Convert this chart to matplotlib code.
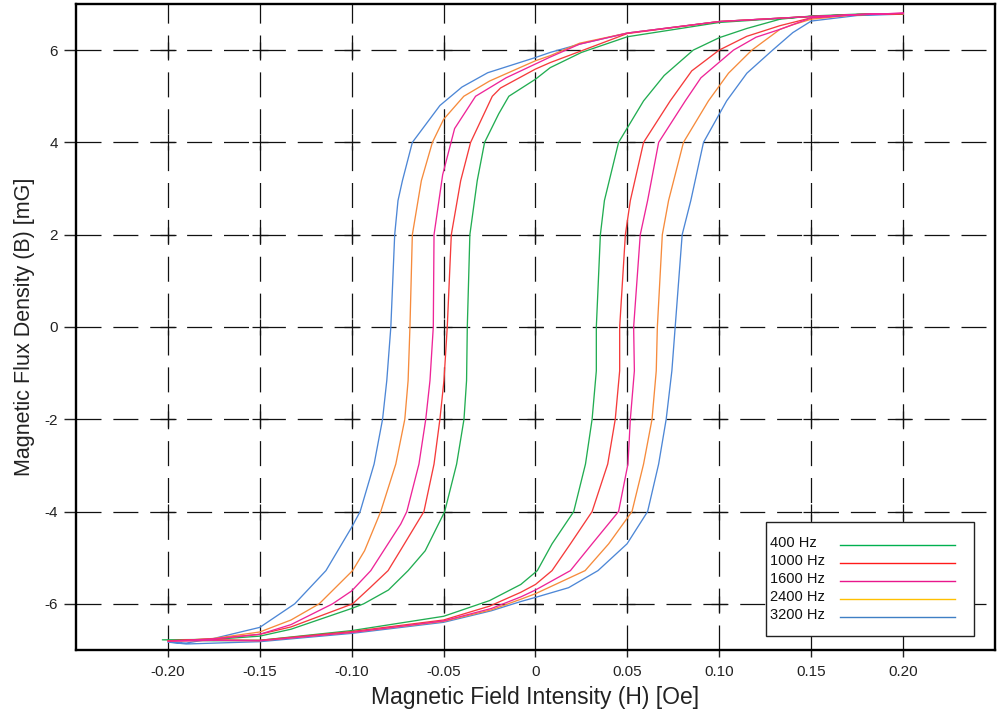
import matplotlib
matplotlib.use("Agg")
import matplotlib.pyplot as plt
from matplotlib.patches import Rectangle
import numpy as np

plt.rcParams['font.family'] = ['Liberation Sans', 'DejaVu Sans']
plt.rcParams['axes.unicode_minus'] = False

# hysteresis loops: upper branch (H falling) then lower branch (H rising)
h_400 = [0.200, 0.175, 0.150, 0.100, 0.050, 0.025, 0.008, 0.000, -0.0145, -0.020, -0.0277, -0.0317,
         -0.0357, -0.0371, -0.0375, -0.0389, -0.0429, -0.0494, -0.0600, -0.0693, -0.0800, -0.0935,
         -0.100, -0.133, -0.150, -0.175, -0.203,
         -0.175, -0.150, -0.100, -0.050, -0.025, -0.008, 0.001, 0.009, 0.0208, 0.0272, 0.0308,
         0.0331, 0.0331, 0.0353, 0.0375, 0.0452, 0.0588, 0.0700, 0.0858, 0.100, 0.115, 0.133,
         0.150, 0.175, 0.200]
b_400 = [6.79, 6.77, 6.73, 6.60, 6.29, 5.95, 5.62, 5.37, 5.00, 4.62, 4.00, 3.17,
         2.00, 0.00, -1.16, -2.00, -2.97, -4.00, -4.85, -5.28, -5.70, -6.00,
         -6.10, -6.55, -6.70, -6.77, -6.78,
         -6.80, -6.79, -6.58, -6.27, -5.93, -5.58, -5.28, -4.70, -4.00, -2.97, -2.00,
         -0.95, 0.00, 2.00, 2.74, 4.00, 4.90, 5.45, 6.00, 6.27, 6.47, 6.67,
         6.74, 6.78, 6.79]

h_1000 = [0.200, 0.175, 0.150, 0.100, 0.050, 0.026, 0.008, 0.000, -0.019, -0.0235, -0.0353, -0.0407,
          -0.0458, -0.0480, -0.0498, -0.0520, -0.0552, -0.0607, -0.0733, -0.0802, -0.0900, -0.0995,
          -0.133, -0.150, -0.175, -0.200,
          -0.175, -0.150, -0.100, -0.050, -0.025, -0.008, 0.000, 0.009, 0.019, 0.0308, 0.0393,
          0.0434, 0.0458, 0.0458, 0.0489, 0.0516, 0.0588, 0.0733, 0.0850, 0.0999, 0.115, 0.133,
          0.150, 0.175, 0.200]
b_1000 = [6.79, 6.77, 6.73, 6.62, 6.36, 6.00, 5.73, 5.59, 5.18, 5.00, 4.00, 3.17,
          2.00, 0.00, -1.16, -2.00, -2.97, -4.00, -4.83, -5.28, -5.65, -6.00,
          -6.50, -6.66, -6.76, -6.80,
          -6.78, -6.79, -6.60, -6.35, -6.05, -5.75, -5.58, -5.28, -4.70, -4.00, -2.97,
          -2.00, -0.95, 0.00, 2.00, 2.74, 4.00, 4.90, 5.55, 6.00, 6.30, 6.53,
          6.70, 6.77, 6.79]

h_1600 = [0.200, 0.175, 0.150, 0.100, 0.050, 0.024, 0.008, 0.000, -0.016, -0.0326, -0.0440, -0.0505,
          -0.0552, -0.0556, -0.0574, -0.0597, -0.0634, -0.0700, -0.0733, -0.0896, -0.1000, -0.1104,
          -0.133, -0.150, -0.175, -0.200,
          -0.175, -0.150, -0.100, -0.050, -0.024, -0.008, 0.000, 0.019, 0.0308, 0.0452, 0.0503,
          0.0516, 0.0538, 0.0534, 0.0570, 0.0610, 0.0670, 0.0815, 0.0900, 0.1077, 0.120, 0.133,
          0.150, 0.175, 0.200]
b_1600 = [6.80, 6.77, 6.73, 6.62, 6.37, 6.13, 5.85, 5.70, 5.40, 5.00, 4.30, 3.30,
          2.00, 0.00, -1.16, -2.00, -2.97, -4.00, -4.27, -5.28, -5.72, -6.00,
          -6.45, -6.66, -6.76, -6.81,
          -6.79, -6.80, -6.62, -6.37, -6.10, -5.85, -5.70, -5.28, -4.70, -4.00, -2.97,
          -2.00, -0.95, 0.00, 2.00, 2.74, 4.00, 4.90, 5.40, 6.00, 6.28, 6.45,
          6.70, 6.77, 6.80]

h_2400 = [0.200, 0.175, 0.150, 0.100, 0.050, 0.024, 0.008, 0.000, -0.025, -0.039, -0.050, -0.0561,
          -0.0621, -0.0670, -0.0683, -0.0693, -0.0711, -0.0760, -0.0842, -0.0930, -0.0995, -0.1177,
          -0.133, -0.150, -0.175, -0.200,
          -0.175, -0.150, -0.100, -0.050, -0.024, -0.008, 0.000, 0.027, 0.0398, 0.0525, 0.0588,
          0.0634, 0.0657, 0.0663, 0.0690, 0.0724, 0.0805, 0.0941, 0.1050, 0.1177, 0.133, 0.140,
          0.150, 0.175, 0.200]
b_2400 = [6.79, 6.77, 6.73, 6.62, 6.37, 6.15, 5.88, 5.77, 5.33, 5.00, 4.50, 4.00,
          3.17, 2.00, 0.00, -1.16, -2.00, -2.97, -4.00, -4.85, -5.28, -6.00,
          -6.35, -6.61, -6.75, -6.81,
          -6.79, -6.80, -6.62, -6.38, -6.13, -5.90, -5.78, -5.28, -4.70, -4.00, -2.97,
          -2.00, -0.95, 0.00, 2.00, 2.74, 4.00, 4.90, 5.50, 6.00, 6.45, 6.55,
          6.67, 6.77, 6.79]

h_3200 = [0.200, 0.175, 0.150, 0.100, 0.050, 0.024, 0.008, 0.000, -0.026, -0.040, -0.052, -0.067,
          -0.0724, -0.0748, -0.0766, -0.0787, -0.0809, -0.0832, -0.0878, -0.0954, -0.1000, -0.1140,
          -0.1310, -0.150, -0.175, -0.190, -0.200,
          -0.190, -0.150, -0.100, -0.050, -0.024, -0.008, 0.000, 0.018, 0.034, 0.0498, 0.061,
          0.067, 0.0711, 0.0742, 0.0760, 0.0798, 0.0845, 0.0914, 0.1040, 0.1150, 0.1290, 0.140,
          0.150, 0.175, 0.200]
b_3200 = [6.78, 6.77, 6.73, 6.62, 6.37, 6.13, 5.95, 5.84, 5.51, 5.20, 4.80, 4.00,
          3.17, 2.74, 2.00, 0.00, -1.16, -2.00, -2.97, -4.00, -4.34, -5.28,
          -6.00, -6.51, -6.75, -6.85, -6.83,
          -6.87, -6.82, -6.64, -6.40, -6.15, -5.95, -5.86, -5.65, -5.28, -4.70, -4.00,
          -2.97, -2.00, -0.95, 0.00, 2.00, 2.74, 4.00, 4.90, 5.50, 6.00, 6.38,
          6.63, 6.75, 6.78]

labels = ['400 Hz', '1000 Hz', '1600 Hz', '2400 Hz', '3200 Hz']
line_colors = ['#22AD52', '#F53B3B', '#EE2598', '#F68B3C', '#4D87D6']
legend_colors = ['#00B050', '#FF1A1A', '#E8168C', '#FFC000', '#3F7FC4']

xticks = [-0.20, -0.15, -0.10, -0.05, 0, 0.05, 0.10, 0.15, 0.20]
xticklabels = ['-0.20', '-0.15', '-0.10', '-0.05', '0', '0.05', '0.10', '0.15', '0.20']
yticks = [-6, -4, -2, 0, 2, 4, 6]

curves = [(h_400, b_400), (h_1000, b_1000), (h_1600, b_1600), (h_2400, b_2400), (h_3200, b_3200)]

fig = plt.figure(figsize=(9.97, 7.12), dpi=100)
ax = fig.add_axes([0.0762, 0.0871, 0.9218, 0.9073])

# dashed grid with small crosses where grid lines meet
for x in xticks:
    ax.axvline(x, color='#111111', lw=0.9, dashes=(20, 9.5), zorder=1)
for y in yticks:
    ax.axhline(y, color='#111111', lw=0.9, dashes=(20, 9.5), zorder=1)
gx, gy = np.meshgrid(xticks, yticks)
ax.plot(gx.ravel(), gy.ravel(), ls='none', marker='+', ms=11, mew=0.9, color='#111111', zorder=1)

for i in [4, 3, 0, 1, 2]:
    h, b = curves[i]
    ax.plot(h, b, color=line_colors[i], lw=0.95, zorder=3)

ax.set_xlim(-0.25, 0.25)
ax.set_ylim(-7, 7)
ax.set_xticks(xticks)
ax.set_xticklabels(xticklabels)
ax.set_yticks(yticks)
ax.tick_params(axis='x', direction='out', length=5, width=1, labelsize=11, colors='#222222', pad=6)
ax.tick_params(axis='y', direction='out', length=9, width=1, labelsize=11, colors='#222222', pad=4)
for s in ax.spines.values():
    s.set_linewidth(1.7)

ax.set_xlabel('Magnetic Field Intensity (H) [Oe]', fontsize=16.5, color='#222222', labelpad=5)
ax.set_ylabel('Magnetic Flux Density (B) [mG]', fontsize=15.5, color='#222222', labelpad=7)

# legend: box, left-aligned labels, sample lines on the right
ax.add_patch(Rectangle((0.751, 0.0217), 0.226, 0.1765, transform=ax.transAxes,
                       facecolor='white', edgecolor='#222222', lw=1.0, zorder=5))
row_y = [0.166, 0.138, 0.110, 0.082, 0.054]
for lab, col, yy in zip(labels, legend_colors, row_y):
    ax.text(0.755, yy, lab, transform=ax.transAxes, fontsize=10.5, color='#111111',
            ha='left', va='center', zorder=6)
    ax.plot([0.831, 0.957], [yy - 0.003, yy - 0.003], transform=ax.transAxes,
            color=col, lw=1.0, zorder=6)

fig.savefig('out.png', dpi=100)
